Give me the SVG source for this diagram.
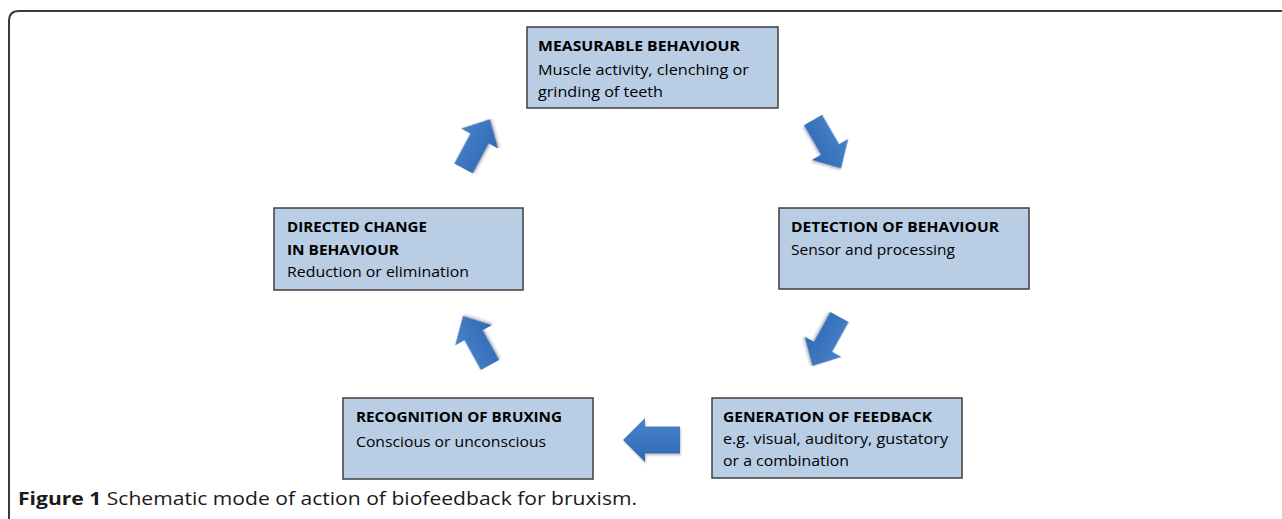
<svg xmlns="http://www.w3.org/2000/svg" width="1282" height="519" viewBox="0 0 1282 519">
<style>
.box{fill:#b9cde5;stroke:#3f3f3f;stroke-width:1.5}
.t{font-family:"Open Sans","Liberation Sans",sans-serif;font-size:15px;fill:#000}
.b{font-weight:bold}
.arrow{fill:url(#ag);filter:url(#sh)}
.cap{font-family:"Open Sans","Liberation Sans",sans-serif;font-size:18px;fill:#1a1a1a}
</style>
<defs>
<linearGradient id="ag" x1="0" y1="0" x2="0" y2="1">
<stop offset="0" stop-color="#4a82c9"/>
<stop offset="1" stop-color="#2f69b4"/>
</linearGradient>
<filter id="sh" x="-30%" y="-30%" width="160%" height="160%">
<feDropShadow dx="1" dy="2" stdDeviation="1.2" flood-color="#808080" flood-opacity="0.45"/>
</filter>
<path id="arr" d="M0,-10.5 H34 V-21 L56,0 L34,21 V10.5 H0 Z"/>
</defs>
<rect width="1282" height="519" fill="#fff"/>
<path d="M9,519 V21 Q9,11 19,11 H1282" fill="none" stroke="#3a3a3a" stroke-width="2"/>

<g id="connectors">
<use href="#arr" class="arrow" transform="translate(463.5,168.5) rotate(-61.8)"/>
<use href="#arr" class="arrow" transform="translate(813,120) rotate(59.9)"/>
<use href="#arr" class="arrow" transform="translate(839.5,317) rotate(118.9)"/>
<path class="arrow" d="M680,426.5 H645 V418 L623,440 L645,462 V453.5 H680 Z"/>
<use href="#arr" class="arrow" transform="translate(490,365) rotate(-118.9)"/>
</g>

<g id="measurable">
<rect class="box" x="527" y="27" width="251" height="81"/>
<text class="t b" x="538" y="50.5" textLength="202" lengthAdjust="spacingAndGlyphs">MEASURABLE BEHAVIOUR</text>
<text class="t" x="538" y="74.5" textLength="211" lengthAdjust="spacingAndGlyphs">Muscle activity, clenching or</text>
<text class="t" x="538" y="96.5" textLength="125" lengthAdjust="spacingAndGlyphs">grinding of teeth</text>
</g>

<g id="detection">
<rect class="box" x="779" y="208" width="250" height="81"/>
<text class="t b" x="791" y="232" textLength="208" lengthAdjust="spacingAndGlyphs">DETECTION OF BEHAVIOUR</text>
<text class="t" x="791" y="255" textLength="164" lengthAdjust="spacingAndGlyphs">Sensor and processing</text>
</g>

<g id="generation">
<rect class="box" x="712" y="398" width="250" height="80"/>
<text class="t b" x="723" y="422" textLength="209" lengthAdjust="spacingAndGlyphs">GENERATION OF FEEDBACK</text>
<text class="t" x="723" y="444" textLength="225" lengthAdjust="spacingAndGlyphs">e.g. visual, auditory, gustatory</text>
<text class="t" x="723" y="466" textLength="126" lengthAdjust="spacingAndGlyphs">or a combination</text>
</g>

<g id="recognition">
<rect class="box" x="343" y="398" width="250" height="81"/>
<text class="t b" x="356" y="422" textLength="206" lengthAdjust="spacingAndGlyphs">RECOGNITION OF BRUXING</text>
<text class="t" x="356" y="447" textLength="190" lengthAdjust="spacingAndGlyphs">Conscious or unconscious</text>
</g>

<g id="directed">
<rect class="box" x="274" y="208" width="249" height="82"/>
<text class="t b" x="287" y="232" textLength="140" lengthAdjust="spacingAndGlyphs">DIRECTED CHANGE</text>
<text class="t b" x="287" y="255" textLength="112" lengthAdjust="spacingAndGlyphs">IN BEHAVIOUR</text>
<text class="t" x="287" y="277" textLength="182" lengthAdjust="spacingAndGlyphs">Reduction or elimination</text>
</g>

<text class="cap" x="18" y="505" textLength="619" lengthAdjust="spacingAndGlyphs"><tspan font-weight="bold">Figure 1</tspan> Schematic mode of action of biofeedback for bruxism.</text>
</svg>
